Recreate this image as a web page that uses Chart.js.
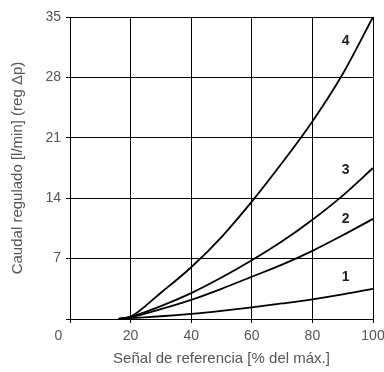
<!DOCTYPE html>
<html>
<head>
<meta charset="utf-8">
<script src="https://cdn.jsdelivr.net/npm/chart.js@4.4.1/dist/chart.umd.min.js"></script>
<style>
html,body{margin:0;padding:0;background:#fff;}
#wrap{width:384px;height:372px;}
</style>
</head>
<body>
<div id="wrap"><canvas id="c" width="384" height="372"></canvas></div>
<script>
// ---- data ----
const xValues = [16, 20, 30, 40, 50, 60, 70, 80, 90, 100];
const curve1 = [0, 0.1, 0.32, 0.6, 0.95, 1.35, 1.8, 2.28, 2.85, 3.5];
const curve2 = [0, 0.22, 1.15, 2.22, 3.5, 4.9, 6.3, 7.9, 9.7, 11.6];
const curve3 = [0, 0.25, 1.5, 3.0, 4.8, 6.8, 9.0, 11.5, 14.3, 17.5];
const curve4 = [0, 0.27, 3.05, 6.0, 9.5, 13.6, 18.1, 22.9, 28.4, 35];
const curveNames = ['1', '2', '3', '4'];
const curveLabelX = [91, 91, 91, 91];
const curveLabelY = [4.8, 11.6, 17.2, 32.2];
const xTicks = [0, 20, 40, 60, 80, 100];
const yTicks = [0, 7, 14, 21, 28, 35];
const xTitle = 'Señal de referencia [% del máx.]';
const yTitle = 'Caudal regulado [l/min] (reg Δp)';

const series = [curve1, curve2, curve3, curve4];
const toPts = arr => arr.map((v, i) => ({x: xValues[i], y: v}));

const FONT = "'Liberation Sans', Arial, Helvetica, sans-serif";

const curveLabels = {
  id: 'curveLabels',
  afterDatasetsDraw(chart) {
    const {ctx, scales: {x, y}} = chart;
    ctx.save();
    ctx.font = "bold 14px " + FONT;
    ctx.fillStyle = '#222';
    ctx.textAlign = 'center';
    ctx.textBaseline = 'middle';
    curveNames.forEach((n, i) => {
      ctx.fillText(n, x.getPixelForValue(curveLabelX[i]), y.getPixelForValue(curveLabelY[i]));
    });
    ctx.restore();
  }
};

new Chart(document.getElementById('c'), {
  type: 'line',
  data: {
    datasets: series.map((s, i) => ({
      label: curveNames[i],
      data: toPts(s),
      borderColor: '#000',
      borderWidth: 1.8,
      pointRadius: 0,
      fill: false,
      cubicInterpolationMode: 'monotone'
    }))
  },
  options: {
    responsive: false,
    animation: false,
    devicePixelRatio: 1,
    layout: {padding: {top: 17, right: 11, left: 0, bottom: 0}},
    plugins: {legend: {display: false}, tooltip: {enabled: false}},
    scales: {
      x: {
        type: 'linear',
        min: 0, max: 100,
        afterBuildTicks: s => { s.ticks = xTicks.map(v => ({value: v})); },
        afterFit: s => { s.height = 53; s.paddingRight = 11; s.paddingLeft = 0; },
        grid: {color: '#000', lineWidth: 1, tickLength: 4, drawTicks: true},
        border: {color: '#000', width: 1},
        ticks: {
          color: '#555', padding: 5,
          font: {family: FONT, size: 14},
          maxRotation: 0,
          callback: v => v === 0 ? '0      ' : String(v)
        },
        title: {display: true, text: xTitle, color: '#555',
          font: {family: FONT, size: 15}, padding: {top: 0, bottom: 4}}
      },
      y: {
        type: 'linear',
        min: 0, max: 35,
        afterBuildTicks: s => { s.ticks = yTicks.map(v => ({value: v})); },
        afterFit: s => { s.width = 70; s.paddingTop = 0; s.paddingBottom = 0; },
        grid: {color: '#000', lineWidth: 1, tickLength: 4},
        border: {color: '#000', width: 1},
        ticks: {
          color: '#555', padding: 5,
          font: {family: FONT, size: 14},
          callback: v => v === 0 ? '' : String(v)
        },
        title: {display: true, text: yTitle, color: '#555',
          font: {family: FONT, size: 15}, padding: {top: 9, bottom: 0}}
      }
    }
  },
  plugins: [curveLabels]
});
</script>
</body>
</html>
